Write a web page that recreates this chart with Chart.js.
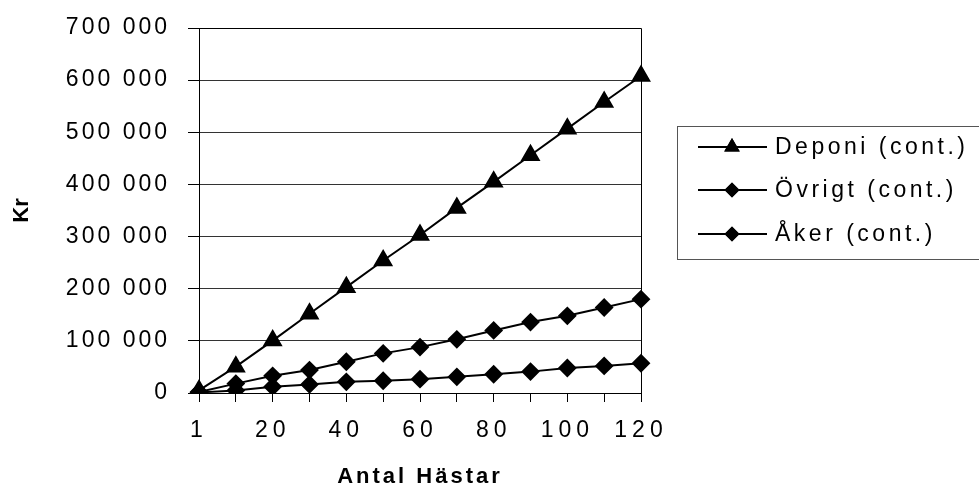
<!DOCTYPE html>
<html>
<head>
<meta charset="utf-8">
<script src="https://cdn.jsdelivr.net/npm/chart.js@4"></script>
<style>
  html, body { margin: 0; padding: 0; background: #fff; }
  #wrap { width: 979px; height: 486px; position: relative; }
</style>
</head>
<body>
<div id="wrap"><canvas id="chart" width="979" height="486"></canvas></div>
<script>
// Antal hästar (x categories)
const horses = ['1', '10', '20', '30', '40', '50', '60', '70', '80', '90', '100', '110', '120'];

// Kostnader i kr
const deponi = [5000, 50500, 100500, 152000, 203000, 254000, 303000, 355000, 405000, 456000, 507000, 558000, 608000];
const ovrigt = [2000, 18000, 33000, 44000, 60000, 76000, 88000, 103000, 120000, 136000, 148000, 164000, 180000];
const aker = [1000, 5000, 12000, 16500, 21500, 23500, 26500, 31000, 36000, 41000, 48000, 52000, 57000];

const seriesNames = ['Deponi (cont.)', 'Övrigt (cont.)', 'Åker (cont.)'];
const yTicks = [0, 100000, 200000, 300000, 400000, 500000, 600000, 700000];

const fontFamily = '"Liberation Sans", Arial, sans-serif';

function fmt(v) {
    return String(v).replace(/\B(?=(\d{3})+(?!\d))/g, ' ');
}

// give a scale's tick labels and title their own letter spacing
function spaced(scale, labelPx, titlePx) {
    if (scale._spaced) return;
    const wrap = (name, px) => {
        const orig = scale[name];
        scale[name] = function() {
            const c = this.ctx;
            c.save();
            c.letterSpacing = px;
            orig.apply(this, arguments);
            c.restore();
        };
    };
    wrap('drawLabels', labelPx);
    wrap('drawTitle', titlePx);
    scale._spaced = true;
}

// black frame around plot area
const frame = {
    id: 'frame',
    afterDatasetsDraw(chart) {
        const {ctx, chartArea: a} = chart;
        ctx.save();
        ctx.strokeStyle = '#000';
        ctx.lineWidth = 1;
        ctx.beginPath();
        ctx.moveTo(a.left, a.top + 0.5);
        ctx.lineTo(a.right + 0.5, a.top + 0.5);
        ctx.lineTo(a.right + 0.5, a.bottom);
        ctx.stroke();
        ctx.restore();
    }
};

// boxed legend to the right of the plot
const boxLegend = {
    id: 'boxLegend',
    afterDraw(chart) {
        const ctx = chart.ctx;
        const x0 = 677, y0 = 126, x1 = 990, y1 = 259;
        const rows = [147, 190, 234];
        ctx.save();
        ctx.strokeStyle = '#555';
        ctx.lineWidth = 1;
        ctx.strokeRect(x0 + 0.5, y0 + 0.5, x1 - x0, y1 - y0);
        chart.data.datasets.forEach((ds, i) => {
            const y = rows[i];
            ctx.strokeStyle = '#000';
            ctx.lineWidth = 2;
            ctx.beginPath();
            ctx.moveTo(698, y);
            ctx.lineTo(767, y);
            ctx.stroke();
            ctx.fillStyle = '#000';
            Chart.helpers.drawPoint(ctx, {
                pointStyle: ds.pointStyle,
                radius: ds.pointStyle === 'triangle' ? 9 : 7.5,
                rotation: 0,
                borderWidth: 0
            }, 732, y);
            ctx.fill();
            ctx.letterSpacing = '3.5px';
            ctx.font = '23px ' + fontFamily;
            ctx.textBaseline = 'middle';
            ctx.textAlign = 'left';
            ctx.fillText(ds.label, 775, y + 1);
        });
        ctx.restore();
    }
};

const ctx = document.getElementById('chart');
new Chart(ctx, {
    type: 'line',
    data: {
        labels: horses,
        datasets: [
            {
                label: seriesNames[0],
                data: deponi,
                borderColor: '#000',
                backgroundColor: '#000',
                borderWidth: 2,
                pointStyle: 'triangle',
                pointRadius: 9.5,
                tension: 0
            },
            {
                label: seriesNames[1],
                data: ovrigt,
                borderColor: '#000',
                backgroundColor: '#000',
                borderWidth: 2,
                pointStyle: 'rectRot',
                pointRadius: 8,
                tension: 0
            },
            {
                label: seriesNames[2],
                data: aker,
                borderColor: '#000',
                backgroundColor: '#000',
                borderWidth: 2,
                pointStyle: 'rectRot',
                pointRadius: 8,
                tension: 0
            }
        ]
    },
    options: {
        responsive: false,
        animation: false,
        devicePixelRatio: 1,
        layout: {
            padding: { left: 0, top: 28, right: 338, bottom: 0 }
        },
        plugins: {
            legend: { display: false },
            tooltip: { enabled: false }
        },
        scales: {
            x: {
                offset: false,
                grid: {
                    drawOnChartArea: false,
                    drawTicks: true,
                    tickLength: 9,
                    color: '#000'
                },
                border: { color: '#000', width: 1 },
                ticks: {
                    autoSkip: false,
                    maxRotation: 0,
                    padding: 15,
                    color: '#000',
                    font: { family: fontFamily, size: 23 },
                    callback: function(val, i) { return i % 2 === 0 ? horses[i] : ''; }
                },
                title: {
                    display: true,
                    text: 'Antal Hästar',
                    color: '#000',
                    font: { family: fontFamily, size: 22, weight: 'bold', lineHeight: 0.85 },
                    padding: { top: 0, bottom: 0 }
                },
                afterFit(scale) {
                    scale.height = 93;
                    scale.paddingLeft = 0;
                    scale.paddingRight = 0;
                },
                afterUpdate(scale) { spaced(scale, '5px', '3px'); }
            },
            y: {
                min: 0,
                max: 700000,
                grid: {
                    color: '#333',
                    lineWidth: 1,
                    tickLength: 11,
                    tickColor: '#000'
                },
                border: { color: '#000', width: 1 },
                afterBuildTicks(scale) {
                    scale.ticks = yTicks.map(v => ({ value: v }));
                },
                ticks: {
                    padding: 18,
                    color: '#000',
                    font: { family: fontFamily, size: 23 },
                    callback: v => fmt(v)
                },
                title: {
                    display: true,
                    text: 'Kr',
                    color: '#000',
                    font: { family: fontFamily, size: 22, weight: 'bold', lineHeight: 1 },
                    padding: { top: 11, bottom: 0 }
                },
                afterFit(scale) {
                    scale.width = 199;
                    scale.paddingTop = 0;
                    scale.paddingBottom = 0;
                },
                afterUpdate(scale) { spaced(scale, '3px', '0px'); }
            }
        }
    },
    plugins: [frame, boxLegend]
});
</script>
</body>
</html>
